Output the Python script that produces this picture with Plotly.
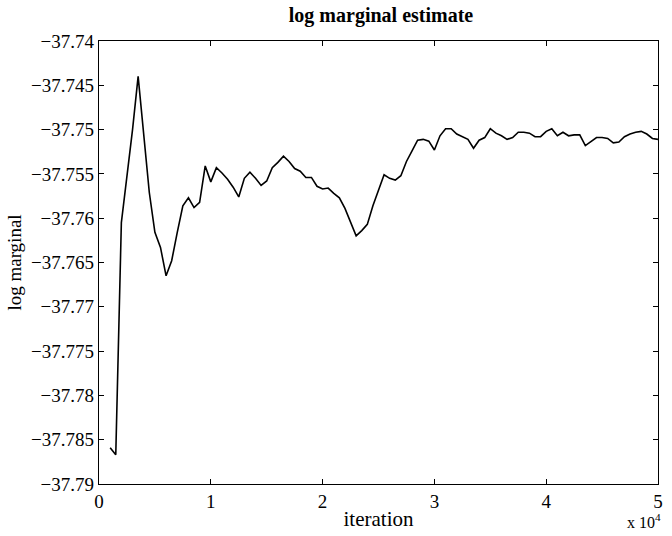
import plotly.graph_objects as go

iterations = list(range(1000, 50001, 500))
log_marginal = [
    -37.7859, -37.7867, -37.7605, -37.7555, -37.7500, -37.7440, -37.7505, -37.7571,
    -37.7616, -37.7633, -37.7665, -37.7648, -37.7616, -37.7586, -37.7577, -37.7588,
    -37.7582, -37.7541, -37.7559, -37.7543, -37.7549, -37.7556, -37.7565, -37.7576,
    -37.7555, -37.7548, -37.7555, -37.7563, -37.7558, -37.7543, -37.7537, -37.7530,
    -37.7536, -37.7544, -37.7547, -37.7554, -37.7554, -37.7564, -37.7567, -37.7566,
    -37.7572, -37.7577, -37.7589, -37.7605, -37.7620, -37.7614, -37.7607, -37.7586,
    -37.7569, -37.7551, -37.7555, -37.7557, -37.7552, -37.7536, -37.7524, -37.7512,
    -37.7511, -37.7513, -37.7523, -37.7507, -37.7499, -37.7499, -37.7505, -37.7508,
    -37.7511, -37.7521, -37.7512, -37.7509, -37.7499, -37.7504, -37.7507, -37.7511,
    -37.7509, -37.7503, -37.7503, -37.7504, -37.7508, -37.7508, -37.7502, -37.7499,
    -37.7507, -37.7503, -37.7507, -37.7506, -37.7506, -37.7518, -37.7513, -37.7509,
    -37.7509, -37.7510, -37.7515, -37.7514, -37.7508, -37.7505, -37.7503, -37.7502,
    -37.7505, -37.7510, -37.7511,
]

x_tick_vals = [0, 10000, 20000, 30000, 40000, 50000]
x_tick_text = ["0", "1", "2", "3", "4", "5"]
y_tick_vals = [-37.79, -37.785, -37.78, -37.775, -37.77, -37.765, -37.76,
               -37.755, -37.75, -37.745, -37.74]
y_tick_text = ["\u221237.79", "\u221237.785", "\u221237.78", "\u221237.775",
               "\u221237.77", "\u221237.765", "\u221237.76", "\u221237.755",
               "\u221237.75", "\u221237.745", "\u221237.74"]

FONT = "Liberation Serif"

fig = go.Figure()
fig.add_trace(go.Scatter(
    x=iterations, y=log_marginal, mode="lines",
    line=dict(color="black", width=1.6), showlegend=False,
))

axis_common = dict(
    showgrid=False, zeroline=False, showline=True, linecolor="black",
    linewidth=1.3, mirror="ticks", ticks="inside", ticklen=5, tickwidth=1,
    tickcolor="black", tickfont=dict(family=FONT, size=19, color="black"),
)

fig.update_layout(
    width=672, height=536,
    margin=dict(l=99, r=9, t=41, b=49),
    paper_bgcolor="white", plot_bgcolor="white",
    title=dict(text="<b>log marginal estimate</b>", x=(99 + 663) / 2 / 672,
               xanchor="center", y=1 - 15 / 536, yanchor="middle",
               font=dict(family=FONT, size=20, color="black")),
    xaxis=dict(range=[0, 50000], tickvals=x_tick_vals, ticktext=x_tick_text,
               title=dict(text="iteration", standoff=0,
                          font=dict(family=FONT, size=21, color="black")),
               **axis_common),
    yaxis=dict(range=[-37.79, -37.74], tickvals=y_tick_vals, ticktext=y_tick_text,
               title=dict(text="log marginal", standoff=4,
                          font=dict(family=FONT, size=19, color="black")),
               **axis_common),
)

fig.add_annotation(
    text="x 10<sup>4</sup>", xref="paper", yref="paper", x=1.0, y=0,
    xanchor="right", yanchor="bottom", yshift=-49, xshift=5, showarrow=False,
    font=dict(family=FONT, size=16, color="black"),
)

fig.write_html("out.html")
